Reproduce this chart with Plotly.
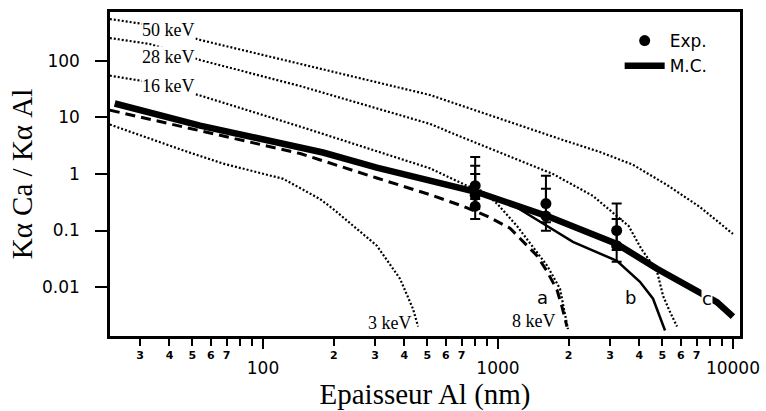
import math
import plotly.graph_objects as go

# ---- data (thickness in nm, ratio) ----
e50_x = [22.3, 33, 54, 144, 514, 1890, 2720, 3750, 5240, 7240, 10000]
e50_y = [553, 434, 236, 88, 25, 4.0, 2.45, 1.46, 0.64, 0.26, 0.087]

e28_x = [22.3, 33, 54, 144, 514, 709, 1715, 2535, 3600, 4080, 4750, 5040, 5400, 5780]
e28_y = [255, 200, 104, 36, 7.7, 4.4, 1.0, 0.41, 0.12, 0.047, 0.019, 0.007, 0.0036, 0.002]

e16_x = [22.3, 30, 54, 144, 514, 738, 855, 990, 1205, 1465, 1617, 1837, 1927, 1985]
e16_y = [55, 45, 24.5, 6.9, 1.26, 0.62, 0.50, 0.30, 0.12, 0.042, 0.024, 0.0093, 0.0036, 0.0018]

e3_x = [22.3, 46, 67.6, 122, 175, 199, 305, 383, 435, 457]
e3_y = [7.5, 2.6, 1.53, 0.82, 0.36, 0.24, 0.054, 0.014, 0.0041, 0.002]

dash_x = [22.3, 54, 144, 305, 514, 709, 897, 1125, 1328, 1465, 1617, 1783, 1872, 1966]
dash_y = [13.5, 5.9, 2.3, 0.85, 0.43, 0.27, 0.18, 0.11, 0.055, 0.036, 0.019, 0.0089, 0.0045, 0.002]

mc_x = [23.4, 54, 144, 180, 305, 383, 514, 813, 1618, 3205, 4750, 7030, 8550, 10000]
mc_y = [17.7, 7.2, 2.94, 2.4, 1.30, 1.04, 0.78, 0.48, 0.18, 0.058, 0.021, 0.0089, 0.0054, 0.003]

b_x = [813, 1160, 1618, 2084, 3205, 4020, 4570, 5140]
b_y = [0.47, 0.28, 0.12, 0.063, 0.029, 0.0124, 0.0062, 0.0017]

exp_x = [800, 800, 800, 1600, 1600, 3200, 3200]
exp_y = [0.62, 0.42, 0.27, 0.30, 0.18, 0.10, 0.054]
exp_hi = [2.0, 1.4, 1.0, 0.93, 0.55, 0.30, 0.16]
exp_lo = [0.36, 0.24, 0.16, 0.14, 0.099, 0.045, 0.028]

y_ticks = [0.01, 0.1, 1, 10, 100]
y_ticktext = ["0.01", "0.1", "1", "10", "100"]
x_minor_labeled = [30, 40, 50, 60, 70, 200, 300, 400, 500, 600, 700,
                   2000, 3000, 4000, 5000, 6000, 7000]
x_minor_text = ["3", "4", "5", "6", "7", "2", "3", "4", "5", "6", "7",
                "2", "3", "4", "5", "6", "7"]
x_minor_unlabeled = [80, 90, 800, 900, 8000, 9000]
x_major = [100, 1000, 10000]
x_major_text = ["100", "1000", "10000"]

curve_labels = [
    ("50 keV", 39.8, 354), ("28 keV", 39.8, 118), ("16 keV", 39.8, 36.1),
    ("3 keV", 347, 0.00231), ("8 keV", 1422, 0.00251),
]
letter_labels = [("a", 1552, 0.00665), ("b", 3650, 0.00665), ("c", 7745, 0.00638)]

XR = [1.349, 4.030]
YR = [-2.867, 2.867]

SERIF = "Liberation Serif"
SANS = "DejaVu Sans"

fig = go.Figure()

dot = dict(color="black", width=2.2, dash="2px,2px")
for xs, ys in [(e50_x, e50_y), (e28_x, e28_y), (e16_x, e16_y), (e3_x, e3_y)]:
    fig.add_trace(go.Scatter(x=xs, y=ys, mode="lines", line=dot,
                             showlegend=False, hoverinfo="skip"))

fig.add_trace(go.Scatter(x=dash_x, y=dash_y, mode="lines",
                         line=dict(color="black", width=3, dash="10px,6px"),
                         showlegend=False))
fig.add_trace(go.Scatter(x=b_x, y=b_y, mode="lines",
                         line=dict(color="black", width=2.5),
                         showlegend=False))
fig.add_trace(go.Scatter(x=mc_x, y=mc_y, mode="lines", name="M.C.",
                         line=dict(color="black", width=6.5), legendrank=2))
fig.add_trace(go.Scatter(
    x=exp_x, y=exp_y, mode="markers", name="Exp.", xaxis="x2", legendrank=1,
    marker=dict(color="black", size=11, symbol="circle"),
    error_y=dict(type="data", symmetric=False,
                 array=[h - v for h, v in zip(exp_hi, exp_y)],
                 arrayminus=[v - l for l, v in zip(exp_lo, exp_y)],
                 color="black", thickness=2, width=5)))

annotations = []
for txt, xv, yv in curve_labels:
    ann = dict(x=math.log10(xv), y=math.log10(yv), xref="x", yref="y",
               text=txt, showarrow=False, borderpad=0,
               font=dict(family=SERIF, size=18, color="black"))
    if txt not in ("3 keV", "8 keV"):
        ann["bgcolor"] = "white"
    annotations.append(ann)
for txt, xv, yv in letter_labels:
    ann = dict(x=math.log10(xv), y=math.log10(yv), xref="x", yref="y",
               text=txt, showarrow=False, borderpad=0,
               font=dict(family=SANS, size=18, color="black"))
    if txt == "c":
        ann["bgcolor"] = "white"
    annotations.append(ann)

fig.update_layout(
    width=766, height=411,
    margin=dict(l=110, r=26, t=12, b=75),
    paper_bgcolor="white", plot_bgcolor="white",
    showlegend=True,
    legend=dict(x=0.809, y=0.966, xanchor="left", yanchor="top",
                bgcolor="rgba(0,0,0,0)", font=dict(family=SANS, size=17, color="black"),
                tracegroupgap=0, itemwidth=40),
    annotations=annotations,
    xaxis=dict(type="log", range=XR, showgrid=False, zeroline=False, automargin=False,
               showline=True, linecolor="black", linewidth=2.5, mirror=True,
               ticks="outside", ticklen=7, tickwidth=2, tickcolor="black",
               tickvals=x_minor_labeled, ticktext=x_minor_text,
               tickfont=dict(family=SANS, size=11, color="black", weight="bold"),
               minor=dict(tickvals=x_minor_unlabeled, ticks="outside", ticklen=7,
                          tickwidth=2, tickcolor="black", showgrid=False),
               title=dict(text="Epaisseur Al (nm)", standoff=27,
                          font=dict(family=SERIF, size=29, color="black"))),
    xaxis2=dict(type="log", range=XR, overlaying="x", anchor="y", side="bottom",
                showgrid=False, zeroline=False, showline=False, automargin=False,
                ticks="outside", ticklen=12, tickwidth=2, tickcolor="black",
                tickvals=x_major, ticktext=x_major_text, ticklabelstandoff=5,
                tickfont=dict(family=SANS, size=17, color="black")),
    yaxis=dict(type="log", range=YR, showgrid=False, zeroline=False, automargin=False,
               showline=True, linecolor="black", linewidth=2.5, mirror=True,
               ticks="outside", ticklen=12, tickwidth=2, tickcolor="black",
               tickvals=y_ticks, ticktext=y_ticktext, ticklabelstandoff=12,
               tickfont=dict(family=SANS, size=17, color="black"),
               title=dict(text="Kα Ca / Kα Al", standoff=1,
                          font=dict(family=SERIF, size=29, color="black"))),
)

fig.write_html("out.html")
